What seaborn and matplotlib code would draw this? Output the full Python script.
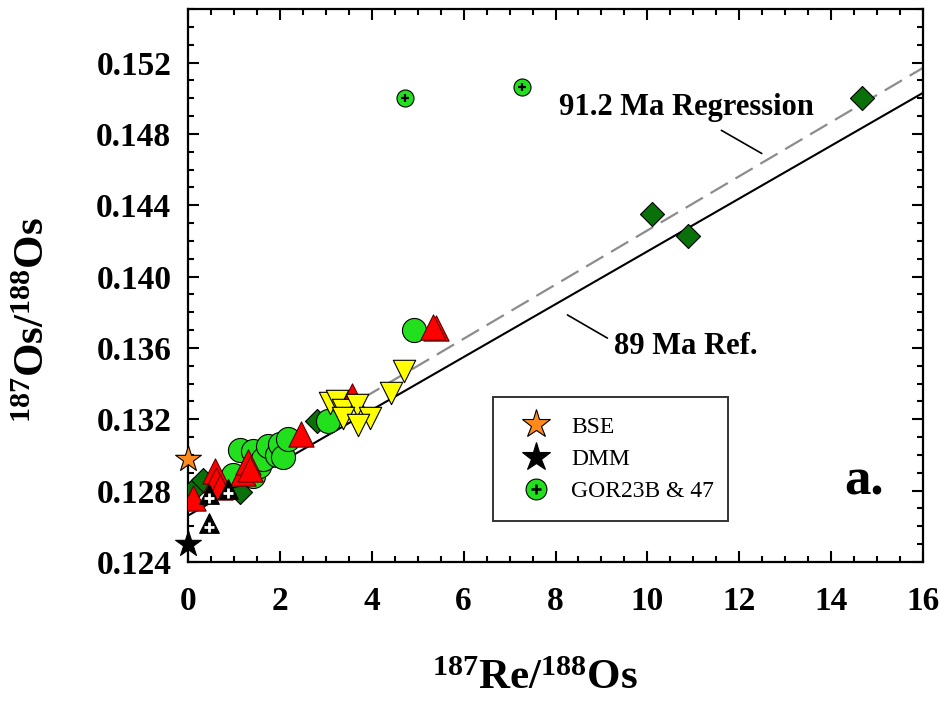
import matplotlib
matplotlib.use("Agg")
import matplotlib.pyplot as plt
import seaborn as sns
from matplotlib.lines import Line2D
from matplotlib.legend_handler import HandlerTuple
from matplotlib.ticker import MultipleLocator

# --- data --------------------------------------------------------------------
bse_x = [0.0]
bse_y = [0.1298]
dmm_x = [0.0]
dmm_y = [0.1250]

diam_x = [0.12, 0.33, 1.13, 2.80, 10.09, 10.89, 14.67]
diam_y = [0.1281, 0.1286, 0.1279, 0.1319, 0.1435, 0.1423, 0.1500]

circ_x = [0.99, 1.13, 1.42, 1.42, 1.55, 1.64, 1.75, 1.93, 2.00, 2.07, 2.18, 3.05, 4.92]
circ_y = [0.1289, 0.1303, 0.1302, 0.1288, 0.1294, 0.1298, 0.1305, 0.1300, 0.1306,
          0.1299, 0.1309, 0.1319, 0.1370]

red_x = [0.10, 0.59, 0.62, 0.70, 1.20, 1.31, 1.35, 2.47, 3.56, 5.40, 5.33]
red_y = [0.1276, 0.1291, 0.1286, 0.1282, 0.1290, 0.1296, 0.1292, 0.1312, 0.1333,
         0.1371, 0.1372]

blk_x = [0.46, 0.46, 0.88]
blk_y = [0.1262, 0.1278, 0.1281]

yel_x = [3.09, 3.24, 3.38, 3.67, 3.38, 3.96, 3.71, 4.41, 4.70]
yel_y = [0.1329, 0.1330, 0.1325, 0.1328, 0.1321, 0.1321, 0.1317, 0.1335, 0.1347]

gor_x = [4.72, 7.28]
gor_y = [0.1500, 0.1506]

ref_x = [0.0, 16.0]          # 89 Ma reference
ref_y = [0.1266, 0.1503]
reg_x = [0.0, 16.0]          # 91.2 Ma regression
reg_y = [0.1274, 0.1517]

sns.set_style("ticks")
plt.rcParams["font.family"] = ["Liberation Serif", "DejaVu Serif"]
plt.rcParams["mathtext.fontset"] = "custom"
plt.rcParams["mathtext.rm"] = "Liberation Serif"
plt.rcParams["mathtext.bf"] = "Liberation Serif:bold"
plt.rcParams["text.color"] = "black"
plt.rcParams["axes.labelcolor"] = "black"
plt.rcParams["xtick.color"] = "black"
plt.rcParams["ytick.color"] = "black"

fig = plt.figure(figsize=(9.46, 7.03), dpi=100)
ax = fig.add_axes([188 / 946, 1 - 562 / 703, 735 / 946, 553 / 703])

# lines
sns.lineplot(x=reg_x, y=reg_y, ax=ax, color="#8c8c8c", lw=1.6, zorder=1)
ax.lines[-1].set_dashes([9, 4])
sns.lineplot(x=ref_x, y=ref_y, ax=ax, color="black", lw=1.5, zorder=1)

# points
sns.scatterplot(x=diam_x, y=diam_y, marker="D", s=150, color="#0a700a",
                edgecolor="black", linewidth=0.8, ax=ax, zorder=3)
sns.scatterplot(x=circ_x, y=circ_y, marker="o", s=300, color="#22e01e",
                edgecolor="black", linewidth=0.8, ax=ax, zorder=3)
sns.scatterplot(x=red_x, y=red_y, marker="^", s=330, color="#ff0000",
                edgecolor="#600000", linewidth=0.8, ax=ax, zorder=4)
sns.scatterplot(x=yel_x, y=yel_y, marker="v", s=260, color="#ffff00",
                edgecolor="black", linewidth=0.8, ax=ax, zorder=5)
sns.scatterplot(x=blk_x, y=blk_y, marker="^", s=200, color="black",
                edgecolor="black", linewidth=0.8, ax=ax, zorder=5)
sns.scatterplot(x=blk_x, y=[v - 0.00022 for v in blk_y], marker="+", s=45,
                color="white", linewidth=2, ax=ax, zorder=6)
sns.scatterplot(x=gor_x, y=gor_y, marker="o", s=150, color="#22e01e",
                edgecolor="black", linewidth=0.8, ax=ax, zorder=5)
sns.scatterplot(x=gor_x, y=gor_y, marker="+", s=40, color="black",
                linewidth=1.6, ax=ax, zorder=6)
sns.scatterplot(x=bse_x, y=bse_y, marker="*", s=380, color="#ff8a1c",
                edgecolor="black", linewidth=0.8, ax=ax, zorder=7, clip_on=False)
sns.scatterplot(x=dmm_x, y=dmm_y, marker="*", s=380, color="black",
                edgecolor="black", linewidth=0.8, ax=ax, zorder=7, clip_on=False)

# axes
ax.set_xlim(0, 16)
ax.set_ylim(0.124, 0.155)
ax.xaxis.set_major_locator(MultipleLocator(2))
ax.xaxis.set_minor_locator(MultipleLocator(0.5))
ax.yaxis.set_minor_locator(MultipleLocator(0.001))
ax.set_yticks([0.124, 0.128, 0.132, 0.136, 0.140, 0.144, 0.148, 0.152])
ax.set_yticklabels(["0.124", "0.128", "0.132", "0.136", "0.140", "0.144", "0.148", "0.152"])
ax.tick_params(which="both", direction="in", top=True, right=True, width=1.5, color="black")
ax.tick_params(which="major", length=8)
ax.tick_params(which="minor", length=4.5)
ax.tick_params(axis="x", which="major", pad=17, labelsize=24)
ax.tick_params(axis="y", which="major", pad=12, labelsize=24)
for lab in ax.get_xticklabels() + ax.get_yticklabels():
    lab.set_fontweight("bold")
for sp in ax.spines.values():
    sp.set_linewidth(1.6)
    sp.set_color("black")

ax.set_xlabel(r"$\mathbf{^{187}}$Re/$\mathbf{^{188}}$Os", fontsize=31, fontweight="bold")
ax.xaxis.set_label_coords((535 - 188) / 735, -0.177)
ax.set_ylabel(r"$\mathbf{^{187}}$Os/$\mathbf{^{188}}$Os", fontsize=31, fontweight="bold")
ax.yaxis.set_label_coords(-0.184, 0.438)

# annotations
ax.text(10.84, 0.14947, "91.2 Ma Regression", fontsize=22, fontweight="bold",
        ha="center", va="center")
ax.plot([11.61, 12.49], [0.14820, 0.14690], color="black", lw=1.2)
ax.text(10.84, 0.13607, "89 Ma Ref.", fontsize=22, fontweight="bold",
        ha="center", va="center")
ax.plot([8.26, 9.13], [0.13785, 0.13655], color="black", lw=1.2)
ax.text(0.920, 0.145, "a.", transform=ax.transAxes, fontsize=38, fontweight="bold",
        ha="center", va="center")

# legend
h_bse = Line2D([], [], marker="*", ls="none", ms=21, mfc="#ff8a1c", mec="black", mew=0.8)
h_dmm = Line2D([], [], marker="*", ls="none", ms=21, mfc="black", mec="black", mew=0.8)
h_gc = Line2D([], [], marker="o", ls="none", ms=15, mfc="#22e01e", mec="black", mew=0.8)
h_gp = Line2D([], [], marker="+", ls="none", ms=7, mec="black", mew=1.8)
leg = ax.legend([h_bse, h_dmm, (h_gc, h_gp)], ["BSE", "DMM", "GOR23B & 47"],
                handler_map={tuple: HandlerTuple(ndivide=1)},
                loc="upper left", bbox_to_anchor=(0.415, 0.298, 0.32, 0.0), mode="expand",
                borderaxespad=0, fontsize=17, frameon=True, fancybox=False,
                labelspacing=0.45, handletextpad=0.5, borderpad=0.8, handlelength=2.0)
leg.get_frame().set_edgecolor("black")
leg.get_frame().set_linewidth(1.4)
leg.set_zorder(10)

fig.savefig("out.png", dpi=100)
